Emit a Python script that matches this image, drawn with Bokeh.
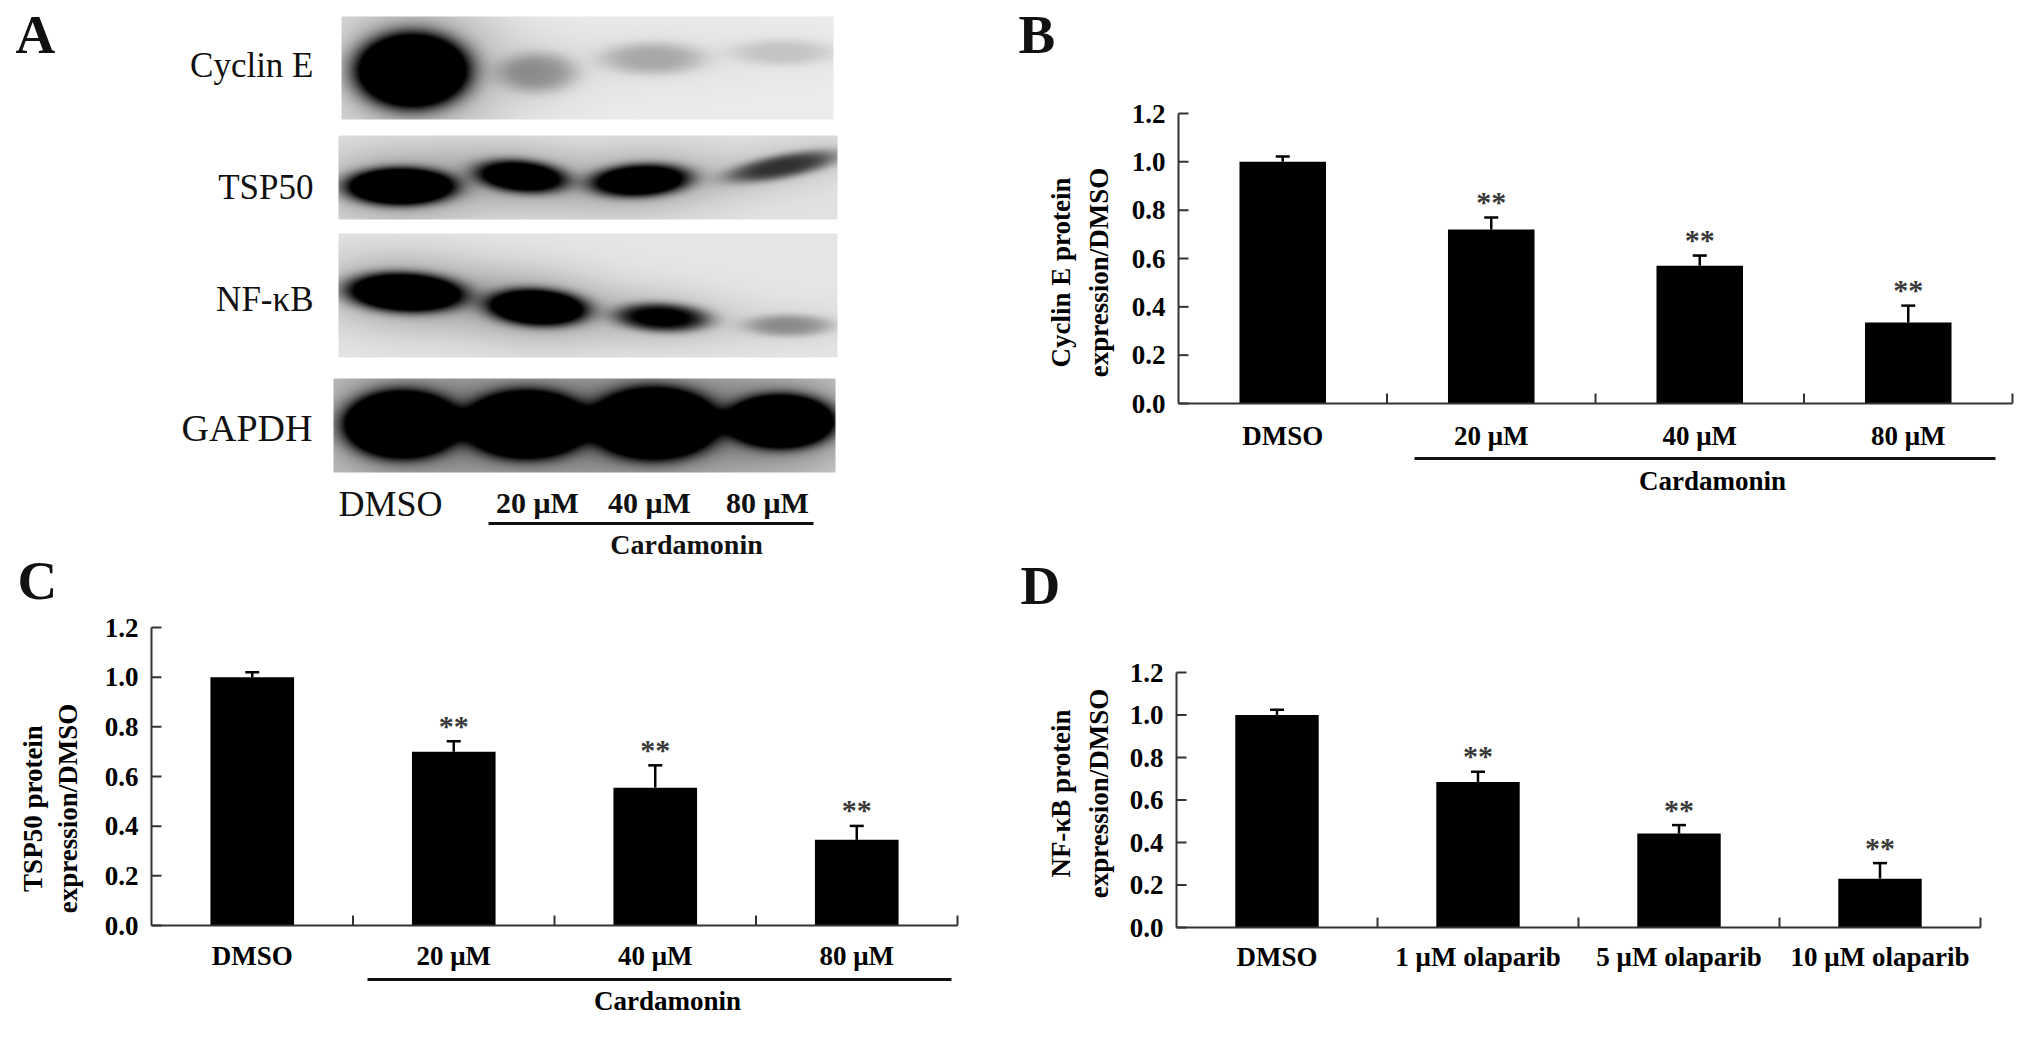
import numpy as np
from math import pi
from bokeh.plotting import figure
from bokeh.models import Range1d, ColumnDataSource
from bokeh.layouts import column, row
from bokeh.embed import file_html
from bokeh.resources import INLINE
from bokeh.core.properties import value

SERIF = "Liberation Serif"
INK = "#111111"
AXIS = "#333333"

# ------------------------------------------------------------------ data
blot_proteins = ["Cyclin E", "TSP50", "NF-κB", "GAPDH"]
blot_lanes = ["DMSO", "20 μM", "40 μM", "80 μM"]
# relative band darkness per lane (DMSO, 20, 40, 80 μM), read from the blot
cyclin_e_band = [1.8, 0.30, 0.24, 0.14]
tsp50_band = [1.6, 1.15, 1.25, 0.65]
nfkb_band = [1.5, 1.4, 0.9, 0.32]
gapdh_band = [2.2, 2.2, 2.2, 2.0]

cardamonin_groups = ["DMSO", "20 μM", "40 μM", "80 μM"]
olaparib_groups = ["DMSO", "1 μM olaparib", "5 μM olaparib", "10 μM olaparib"]

cyclin_e_mean = [1.00, 0.72, 0.57, 0.335]
cyclin_e_sd = [0.022, 0.05, 0.042, 0.07]
tsp50_mean = [1.00, 0.70, 0.555, 0.345]
tsp50_sd = [0.02, 0.042, 0.09, 0.056]
nfkb_mean = [1.00, 0.685, 0.442, 0.23]
nfkb_sd = [0.025, 0.048, 0.04, 0.073]
signif = ["", "**", "**", "**"]

y_ticks = [0.0, 0.2, 0.4, 0.6, 0.8, 1.0, 1.2]
group_label = "Cardamonin"


def txt(p, x, y, text, size, bold=False, align="left", **kw):
    # all texts are placed by the vertical middle of their letters
    p.text(x=x, y=y, text=text, text_font=value(SERIF),
           text_font_style="bold" if bold else "normal", text_font_size=size,
           text_align=align, text_baseline="middle", text_line_height=1.0,
           text_color=kw.pop("color", INK), **kw)


def bare_figure(w, h, xr, yr):
    p = figure(width=w, height=h, x_range=Range1d(*xr), y_range=Range1d(*yr),
               output_backend="svg", toolbar_location=None,
               x_axis_location=None, y_axis_location=None, min_border=0)
    p.outline_line_color = None
    p.xgrid.visible = False
    p.ygrid.visible = False
    return p


# ------------------------------------------------------------------ panel A (western blot)
# figure covers page pixels x 0..1008, y 0..612 (y is negated so that up is up)
pA = bare_figure(1008, 612, (0, 1008), (-612, 0))


def blot_strip(p, box, bg, intens, lanes):
    x0, x1, y0, y1 = box
    w, h = x1 - x0, y1 - y0
    X, Y = np.meshgrid(np.arange(w) + x0 + 0.5, np.arange(h) + y0 + 0.5)
    D = np.zeros((h, w))
    for I, (cx, cy, rx, ry, s) in zip(intens, lanes):
        dy = Y - (cy + s * (X - cx))
        r2 = ((X - cx) / rx) ** 2 + (dy / ry) ** 2
        D += I * np.exp(-(r2 ** 1.8))
        D += 0.2 * I * np.exp(-(((X - cx) / (1.5 * rx)) ** 2 + (dy / (2.0 * ry)) ** 2))
    gray = bg * (1 - np.clip(D, 0, 1))
    gray = np.ascontiguousarray(np.flipud(gray)).astype(np.uint8)
    img = np.empty((h, w), dtype=np.uint32)
    v = img.view(dtype=np.uint8).reshape((h, w, 4))
    v[..., 0] = gray
    v[..., 1] = gray
    v[..., 2] = gray
    v[..., 3] = 255
    p.image_rgba(image=[img], x=x0, y=-y1, dw=w, dh=h)


blot_strip(pA, (341, 833, 16, 119), 236, cyclin_e_band,
           [(412, 70, 55, 36, 0), (537, 72, 40, 20, 0), (652, 58, 52, 16, 0), (782, 52, 52, 13, 0)])
blot_strip(pA, (338, 837, 135, 219), 226, tsp50_band,
           [(400, 186, 54, 18, 0), (521, 176, 46, 16, 0.08), (640, 180, 50, 16, -0.05), (782, 166, 56, 12, -0.18)])
blot_strip(pA, (338, 837, 233, 357), 230, nfkb_band,
           [(405, 292, 58, 19, 0.04), (537, 307, 50, 18, 0.05), (662, 317, 47, 14, 0.04), (788, 325, 44, 11, 0)])
blot_strip(pA, (333, 835, 378, 472), 212, gapdh_band,
           [(401, 424, 54, 31, 0), (526, 424, 57, 31, 0), (654, 423, 59, 33, 0), (781, 421, 51, 25, 0)])

txt(pA, [313, 313, 313], [-65, -187, -299], blot_proteins[:3], "35px", align="right")
txt(pA, [312], [-427], [blot_proteins[3]], "38px", align="right")
txt(pA, [338], [-503], [blot_lanes[0]], "36px")
txt(pA, [537, 649, 767], [-502, -502, -502], blot_lanes[1:], "30px", bold=True, align="center")
pA.segment(x0=[488], y0=[-523], x1=[813], y1=[-523], line_width=3, line_color=INK)
txt(pA, [686], [-544], [group_label], "28px", bold=True, align="center")
txt(pA, [15], [-34], ["A"], "55px", bold=True)
# letter of panel C sits in this figure's lower strip
txt(pA, [17], [-580], ["C"], "55px", bold=True)


# ------------------------------------------------------------------ bar panels
def bar_panel(fig_box, ax_box, groups, means, sds, ylabel_lines, ylabel_xs, ylabel_yc,
              label_off, letter=None, letter_xy=None, bracket=None):
    fx0, fy0, fx1, fy1 = fig_box
    ax0, ay0, ax1, ay1 = ax_box
    n = len(groups)
    ymax = y_ticks[-1]
    kx = n / (ax1 - ax0)
    ky = ymax / (ay1 - ay0)

    def X(px):
        return (px - ax0) * kx

    def Y(py):
        return (ay1 - py) * ky

    p = bare_figure(fx1 - fx0, fy1 - fy0, (X(fx0), X(fx1)), (Y(fy1), Y(fy0)))

    centers = [i + 0.5 for i in range(n)]
    tops = [m + s for m, s in zip(means, sds)]
    src = ColumnDataSource(dict(x=centers, mean=means, top=tops, star=signif))
    p.vbar(x="x", top="mean", bottom=0, width=0.415, source=src,
           fill_color="black", line_color=None)
    p.segment(x0="x", y0="mean", x1="x", y1="top", source=src,
              line_color="black", line_width=2.5)
    p.scatter(x="x", y="top", marker="dash", size=14, source=src,
              line_color="black", line_width=2.5)
    p.text(x="x", y="top", text="star", source=src, y_offset=-16,
           text_font=value(SERIF), text_font_style="bold", text_font_size="30px",
           text_align="center", text_baseline="middle", text_line_height=1.0,
           text_color="#3a3a3a")

    # axes: y axis with inward ticks, x axis with group separators
    p.segment(x0=[0, 0], y0=[0, 0], x1=[0, n], y1=[ymax, 0], line_color=AXIS, line_width=2)
    p.segment(x0=[0] * len(y_ticks), y0=y_ticks, x1=[10 * kx] * len(y_ticks), y1=y_ticks,
              line_color=AXIS, line_width=2)
    seps = list(range(1, n + 1))
    p.segment(x0=seps, y0=[0] * n, x1=seps, y1=[10 * ky] * n, line_color=AXIS, line_width=2)
    txt(p, [0] * len(y_ticks), y_ticks, [f"{t:.1f}" for t in y_ticks], "27px", bold=True,
        align="right", x_offset=-13, color="black")
    txt(p, centers, [0] * n, groups, "27px", bold=True, align="center",
        y_offset=label_off, color="black")

    # rotated two-line y-axis title
    txt(p, [X(v) for v in ylabel_xs], [Y(ylabel_yc)] * len(ylabel_lines), ylabel_lines,
        "27px", bold=True, align="center", angle=pi / 2, color="black")

    if bracket is not None:
        bx0, bx1, by, lx, ly = bracket
        p.segment(x0=[X(bx0)], y0=[Y(by)], x1=[X(bx1)], y1=[Y(by)], line_width=3, line_color=INK)
        txt(p, [X(lx)], [Y(ly)], [group_label], "27px", bold=True, align="center", color="black")

    if letter is not None:
        txt(p, [X(letter_xy[0])], [Y(letter_xy[1])], [letter], "55px", bold=True)
    return p


pB = bar_panel((1008, 0, 2028, 550), (1178, 113, 2012, 403),
               cardamonin_groups, cyclin_e_mean, cyclin_e_sd,
               ["Cyclin E protein", "expression/DMSO"], [1060, 1098], 272, 32,
               letter="B", letter_xy=(1018, 34), bracket=(1414, 1995, 458, 1712, 480))
pC = bar_panel((0, 612, 1008, 1040), (151, 627, 957, 925),
               cardamonin_groups, tsp50_mean, tsp50_sd,
               ["TSP50 protein", "expression/DMSO"], [32, 67], 808, 30,
               bracket=(367, 951, 979, 667, 1000))
pD = bar_panel((1008, 550, 2028, 1040), (1176, 672, 1980, 927),
               olaparib_groups, nfkb_mean, nfkb_sd,
               ["NF-κB protein", "expression/DMSO"], [1060, 1098], 793, 29,
               letter="D", letter_xy=(1020, 585))

layout = row(column(pA, pC), column(pB, pD))
open("out.html", "w").write(file_html(layout, INLINE))
